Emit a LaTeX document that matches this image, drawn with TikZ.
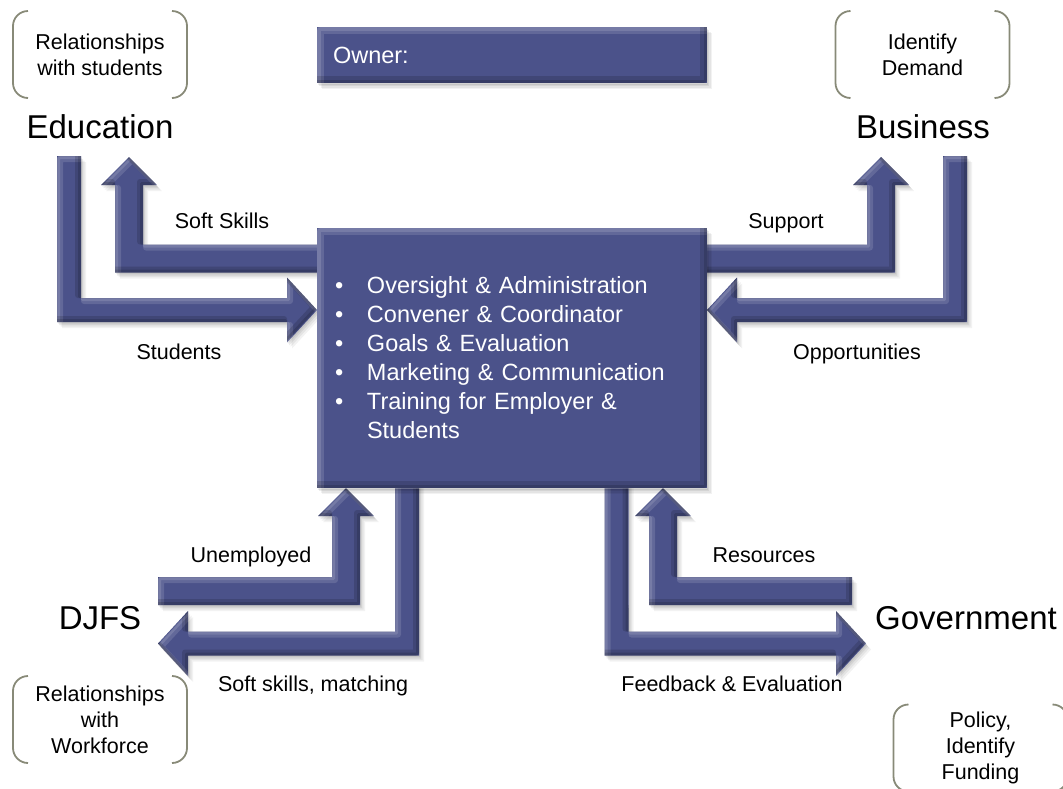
\documentclass[tikz,border=0pt]{standalone}
\usepackage{fontspec}
\setmainfont{Liberation Sans}
\usetikzlibrary{calc,backgrounds}

\definecolor{panel}{RGB}{75,82,138}
\definecolor{rim}{RGB}{136,138,120}

% Filled shape with a soft drop shadow and a graded bevelled rim.
% #1 closed path, #2 bevel offset, #3 bevel band width
\newcommand\plate[3]{%
  \fill[black,opacity=.05,transform canvas={shift={(5pt,-6pt)}}] #1;
  \fill[black,opacity=.06,transform canvas={shift={(3.5pt,-4.5pt)}}] #1;
  \fill[black,opacity=.07,transform canvas={shift={(2pt,-3pt)}}] #1;
  \fill[black,opacity=.07,transform canvas={shift={(1pt,-1.5pt)}}] #1;
  \fill[panel] #1;
  \begin{scope}
    \clip #1;
    \draw[white,opacity=.13,line width=#3,line join=round,
          transform canvas={shift={(#2,-#2)}}] #1;
    \draw[white,opacity=.13,line width=#2,line join=round,
          transform canvas={shift={(#2/2,-#2/2)}}] #1;
    \draw[black,opacity=.14,line width=#3,line join=round,
          transform canvas={shift={(-#2,#2)}}] #1;
    \draw[black,opacity=.14,line width=#2,line join=round,
          transform canvas={shift={(-#2/2,#2/2)}}] #1;
  \end{scope}
}

% L-shaped block arrow: #1 prefix, #2 start, #3 bend, #4 tip,
% #5 half shaft width, #6 half head width, #7 head length
\newcommand\bentarrow[7]{%
  \coordinate (#1-b) at ($(#4)!#7!(#3)$);
  \coordinate (#1-p1) at ($(#2)!#5!90:(#3)$);
  \coordinate (#1-p2) at ($(#3)!#5!90:(#4) + (#2)!#5!90:(#3) - (#2)$);
  \coordinate (#1-p3) at ($(#1-b)!#5!90:(#4)$);
  \coordinate (#1-p4) at ($(#1-b)!#6!90:(#4)$);
  \coordinate (#1-p5) at ($(#1-b)!#6!-90:(#4)$);
  \coordinate (#1-p6) at ($(#1-b)!#5!-90:(#4)$);
  \coordinate (#1-p7) at ($(#3)!#5!-90:(#4) + (#2)!#5!-90:(#3) - (#2)$);
  \coordinate (#1-p8) at ($(#2)!#5!-90:(#3)$);
  \plate{(#1-p1) -- (#1-p2) -- (#1-p3) -- (#1-p4) -- (#4) -- (#1-p5)
         -- (#1-p6) -- (#1-p7) -- (#1-p8) -- cycle}{3pt}{6pt}%
}

% Rounded bracket pair around a note node
\newcommand\brackets[1]{%
  \draw[rimline] ([xshift=15pt]#1.north west)
    arc[start angle=90,end angle=180,radius=15pt]
    -- ([yshift=15pt]#1.south west)
    arc[start angle=180,end angle=270,radius=15pt];
  \draw[rimline] ([xshift=-15pt]#1.north east)
    arc[start angle=90,end angle=0,radius=15pt]
    -- ([yshift=15pt]#1.south east)
    arc[start angle=0,end angle=-90,radius=15pt];
}

\tikzset{
  party/.style={font=\fontsize{33}{38}\selectfont, inner sep=0pt},
  flow/.style={font=\fontsize{21.5}{26}\selectfont, inner sep=0pt,
    text height=15.5pt, text depth=4.5pt},
  note/.style={font=\fontsize{21.5}{26}\selectfont, align=center,
    minimum width=174pt, minimum height=87pt, inner sep=0pt, outer sep=0pt},
  rimline/.style={draw=rim, line width=1.8pt},
  board/.style={minimum width=390pt, outer sep=0pt, inner ysep=0pt,
    inner xsep=16pt, text width=358pt, align=left, text=white},
}

\begin{document}
\begin{tikzpicture}[x=1pt,y=-1pt]
\useasboundingbox (0,0) rectangle (1063,788);

% central boxes
\node[board, minimum height=56pt, font=\fontsize{23.5}{28}\selectfont]
  (owner) at (512,55) {Owner:};
\node[board, minimum height=260pt, font=\fontsize{23.5}{29}\selectfont]
  (hub) at (512,358) {%
  \makebox[34pt][l]{\hspace{2pt}\textbullet}Oversight \& Administration\\
  \makebox[34pt][l]{\hspace{2pt}\textbullet}Convener \& Coordinator\\
  \makebox[34pt][l]{\hspace{2pt}\textbullet}Goals \& Evaluation\\
  \makebox[34pt][l]{\hspace{2pt}\textbullet}Marketing \& Communication\\
  \makebox[34pt][l]{\hspace{2pt}\textbullet}Training for Employer \&\\
  \makebox[34pt]{}Students};

% partners
\node[party] (edu)  at (100,127) {Education};
\node[party] (biz)  at (923,127) {Business};
\node[party] (djfs) at (100,618) {DJFS};
\node[party] (gov)  at (966,618) {Government};

% notes in brackets
\node[note] (n-edu) at (100,54.5)  {Relationships\\with students};
\node[note] (n-biz) at (922.5,54.5) {Identify\\Demand};
\node[note] (n-djfs) at (100,719.5) {Relationships\\with\\Workforce};
\node[note] (n-gov) at (980.5,748) {Policy,\\Identify\\Funding};
\brackets{n-edu}
\brackets{n-biz}
\brackets{n-djfs}
\brackets{n-gov}

% flow labels
\node[flow] (l-ss) at (222,222.5) {Soft Skills};
\node[flow] (l-st) at (179,353.5) {Students};
\node[flow] (l-su) at (786,223) {Support};
\node[flow] (l-op) at (857,353.5) {Opportunities};
\node[flow] (l-un) at (251,556.5) {Unemployed};
\node[flow] (l-sm) at (313,685.5) {Soft skills, matching};
\node[flow] (l-re) at (764,556.5) {Resources};
\node[flow] (l-fe) at (732,685.5) {Feedback \& Evaluation};

\begin{scope}[on background layer]
  % Education
  \coordinate (ss-c) at (129,258.5);
  \coordinate (ss-s) at ($(hub.west |- ss-c)+(20,0)$);
  \coordinate (ss-t) at (129,157);
  \bentarrow{ss}{ss-s}{ss-c}{ss-t}{14pt}{28pt}{28pt}
  \coordinate (st-s) at (69,156);
  \coordinate (st-c) at (69,310);
  \coordinate (st-t) at (hub.west |- st-c);
  \bentarrow{st}{st-s}{st-c}{st-t}{12pt}{32.5pt}{30pt}
  % Business
  \coordinate (su-c) at (881,258.5);
  \coordinate (su-s) at ($(hub.east |- su-c)+(-20,0)$);
  \coordinate (su-t) at (881,157);
  \bentarrow{su}{su-s}{su-c}{su-t}{14pt}{28pt}{28pt}
  \coordinate (op-s) at (955,156);
  \coordinate (op-c) at (955,310);
  \coordinate (op-t) at (hub.east |- op-c);
  \bentarrow{op}{op-s}{op-c}{op-t}{12pt}{32.5pt}{30pt}
  % DJFS
  \coordinate (un-s) at (158,591);
  \coordinate (un-c) at (346,591);
  \coordinate (un-t) at (un-c |- hub.south);
  \bentarrow{un}{un-s}{un-c}{un-t}{14pt}{28pt}{28pt}
  \coordinate (sm-c) at (407,643.5);
  \coordinate (sm-s) at ($(sm-c |- hub.south)+(0,-20)$);
  \coordinate (sm-t) at (158,643.5);
  \bentarrow{sm}{sm-s}{sm-c}{sm-t}{12pt}{32.5pt}{30pt}
  % Government
  \coordinate (re-s) at (852,591);
  \coordinate (re-c) at (663,591);
  \coordinate (re-t) at (re-c |- hub.south);
  \bentarrow{re}{re-s}{re-c}{re-t}{14pt}{28pt}{28pt}
  \coordinate (fe-c) at (616.5,643.5);
  \coordinate (fe-s) at ($(fe-c |- hub.south)+(0,-20)$);
  \coordinate (fe-t) at (866,643.5);
  \bentarrow{fe}{fe-s}{fe-c}{fe-t}{12pt}{32.5pt}{30pt}
  % boxes
  \plate{(hub.north west) rectangle (hub.south east)}{3.5pt}{7pt}
  \plate{(owner.north west) rectangle (owner.south east)}{3.5pt}{7pt}
\end{scope}
\end{tikzpicture}
\end{document}
